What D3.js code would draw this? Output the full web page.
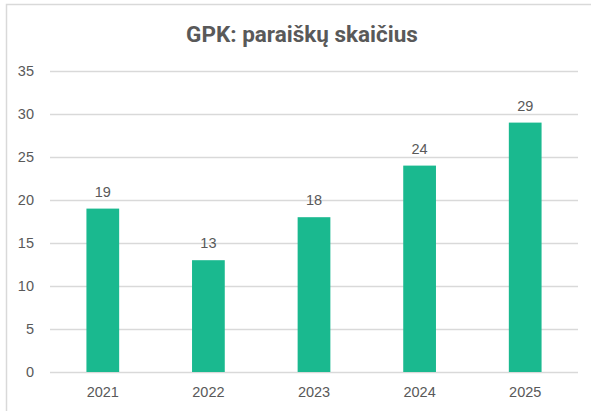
<!DOCTYPE html>
<html>
<head>
<meta charset="utf-8">
<script src="https://cdn.jsdelivr.net/npm/d3@7"></script>
<style>
  html, body { margin: 0; padding: 0; background: #fff; }
  svg { display: block; }
</style>
</head>
<body>
<svg id="chart" width="591" height="411"></svg>
<script>
const title = "GPK: paraiškų skaičius";
const categories = ["2021", "2022", "2023", "2024", "2025"];
const values = [19, 13, 18, 24, 29];
const yTicks = [0, 5, 10, 15, 20, 25, 30, 35];

const W = 591, H = 411;
const margin = { left: 50, right: 13, top: 71, bottom: 39 };
const svg = d3.select("#chart");
const labelFont = "'Liberation Sans', Arial, sans-serif";

// outer frame (top and left edges visible)
svg.append("path")
  .attr("d", `M6.5,${H} L6.5,4.5 L${W},4.5`)
  .attr("fill", "none")
  .attr("stroke", "#d9d9d9")
  .attr("stroke-width", 1.5);

const x = d3.scaleBand()
  .domain(categories)
  .range([margin.left, W - margin.right])
  .paddingInner(0.69)
  .paddingOuter(0.345);

const y = d3.scaleLinear()
  .domain([0, 35])
  .range([H - margin.bottom, margin.top]);

// gridlines
svg.append("g")
  .selectAll("line")
  .data(yTicks)
  .join("line")
  .attr("x1", margin.left)
  .attr("x2", W - margin.right)
  .attr("y1", d => Math.round(y(d)) + 0.5)
  .attr("y2", d => Math.round(y(d)) + 0.5)
  .attr("stroke", "#d9d9d9")
  .attr("stroke-width", 1.3);

// y axis labels
const yAxis = d3.axisLeft(y).tickValues(yTicks).tickSize(0).tickPadding(16);
const gy = svg.append("g")
  .attr("transform", `translate(${margin.left},0)`)
  .call(yAxis);
gy.select(".domain").remove();
gy.selectAll("text")
  .attr("fill", "#595959")
  .style("font-family", labelFont)
  .style("font-size", "14.5px");

// bars
svg.append("g")
  .selectAll("rect")
  .data(values)
  .join("rect")
  .attr("x", (d, i) => x(categories[i]))
  .attr("width", x.bandwidth())
  .attr("y", d => y(d))
  .attr("height", d => y(0) - y(d))
  .attr("fill", "#1ab98f");

// x axis labels
const xAxis = d3.axisBottom(x).tickSize(0).tickPadding(14.5);
const gx = svg.append("g")
  .attr("transform", `translate(0,${y(0)})`)
  .call(xAxis);
gx.select(".domain").remove();
gx.selectAll("text")
  .attr("fill", "#595959")
  .style("font-family", labelFont)
  .style("font-size", "14.5px");

// value labels
svg.append("g")
  .selectAll("text")
  .data(values)
  .join("text")
  .attr("x", (d, i) => x(categories[i]) + x.bandwidth() / 2)
  .attr("y", d => y(d) - 12)
  .attr("text-anchor", "middle")
  .attr("fill", "#595959")
  .style("font-family", labelFont)
  .style("font-size", "14.5px")
  .text(d => d);

// title
svg.append("text")
  .attr("x", 302)
  .attr("y", 42)
  .attr("text-anchor", "middle")
  .attr("fill", "#595959")
  .style("font-family", "Roboto, sans-serif")
  .style("font-weight", "700")
  .style("font-size", "22.5px")
  .text(title);
</script>
</body>
</html>
